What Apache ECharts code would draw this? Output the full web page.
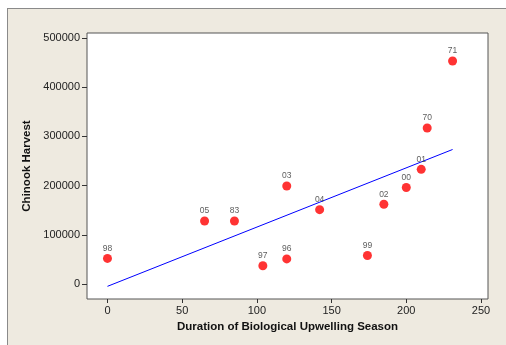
<!DOCTYPE html>
<html>
<head>
<meta charset="utf-8">
<script src="https://cdn.jsdelivr.net/npm/echarts@6/dist/echarts.min.js"></script>
<style>
  html, body { margin: 0; padding: 0; background: #fff; }
  #chartBox {
    position: absolute; left: 7px; top: 8px; width: 499px; height: 337px;
    background: #EEEAE0; border-top: 1px solid #8a8a8a; border-left: 1px solid #8a8a8a;
  }
</style>
</head>
<body>
<div id="chartBox"></div>
<script>
  // upwelling season duration (days) vs. chinook harvest, labelled by year
  var years = ['98', '05', '83', '97', '96', '03', '04', '99', '02', '00', '01', '70', '71'];
  var duration = [0, 65, 85, 104, 120, 120, 142, 174, 185, 200, 210, 214, 231];
  var harvest = [52000, 128000, 128000, 37000, 51000, 199000, 151000, 58000, 162000, 196000, 233000, 317000, 453000];
  var xTicks = [0, 50, 100, 150, 200, 250];
  var yTicks = [0, 100000, 200000, 300000, 400000, 500000];

  // least squares fit line
  var n = duration.length, mx = 0, my = 0;
  for (var i = 0; i < n; i++) { mx += duration[i]; my += harvest[i]; }
  mx = mx / n; my = my / n;
  var sxy = 0, sxx = 0;
  for (var i = 0; i < n; i++) {
    sxy += (duration[i] - mx) * (harvest[i] - my);
    sxx += (duration[i] - mx) * (duration[i] - mx);
  }
  var slope = sxy / sxx;
  var icpt = my - slope * mx;
  var xLo = Math.min.apply(null, duration), xHi = Math.max.apply(null, duration);
  var fitLine = [[xLo, icpt + slope * xLo], [xHi, icpt + slope * xHi]];

  var pts = [];
  for (var i = 0; i < n; i++) {
    pts.push({ name: years[i], value: [duration[i], harvest[i]] });
  }

  var font = '"Liberation Sans", Arial, sans-serif';
  var chartsOption = {
    animation: false,
    textStyle: { fontFamily: font },
    grid: {
      left: 79, top: 24, width: 401, height: 266,
      show: true, backgroundColor: '#fff', borderColor: '#555', borderWidth: 1
    },
    xAxis: {
      type: 'value', min: -13.7, max: 254.7,
      name: 'Duration of Biological Upwelling Season',
      nameLocation: 'middle', nameGap: 22,
      nameTextStyle: { fontSize: 11.5, fontWeight: 'bold', color: '#111', fontFamily: font },
      axisLine: { show: false, onZero: false },
      splitLine: { show: false },
      axisTick: { show: true, length: 4, customValues: xTicks, lineStyle: { color: '#333' } },
      axisLabel: {
        customValues: xTicks, fontSize: 11, color: '#222', margin: 6, fontFamily: font,
        formatter: function (v) { return String(v); }
      }
    },
    yAxis: {
      type: 'value', min: -30500, max: 510000,
      name: 'Chinook Harvest',
      nameLocation: 'middle', nameGap: 51,
      nameTextStyle: { fontSize: 11.5, fontWeight: 'bold', color: '#111', fontFamily: font },
      axisLine: { show: false, onZero: false },
      splitLine: { show: false },
      axisTick: { show: true, length: 5, customValues: yTicks, lineStyle: { color: '#333' } },
      axisLabel: {
        customValues: yTicks, fontSize: 11, color: '#222', margin: 7, fontFamily: font,
        formatter: function (v) { return String(v); }
      }
    },
    series: [
      {
        type: 'line',
        data: fitLine,
        symbol: 'none',
        lineStyle: { color: '#0000ff', width: 1 },
        z: 2
      },
      {
        type: 'scatter',
        data: pts,
        symbolSize: 9,
        itemStyle: { color: '#ff0000' },
        label: {
          show: true, position: 'top', distance: 1,
          formatter: '{b}', fontSize: 8.5, color: '#333', fontFamily: font
        },
        z: 3
      }
    ]
  };

  var myChart = echarts.init(document.getElementById('chartBox'));
  chartsOption && myChart.setOption(chartsOption, true);
</script>
</body>
</html>
